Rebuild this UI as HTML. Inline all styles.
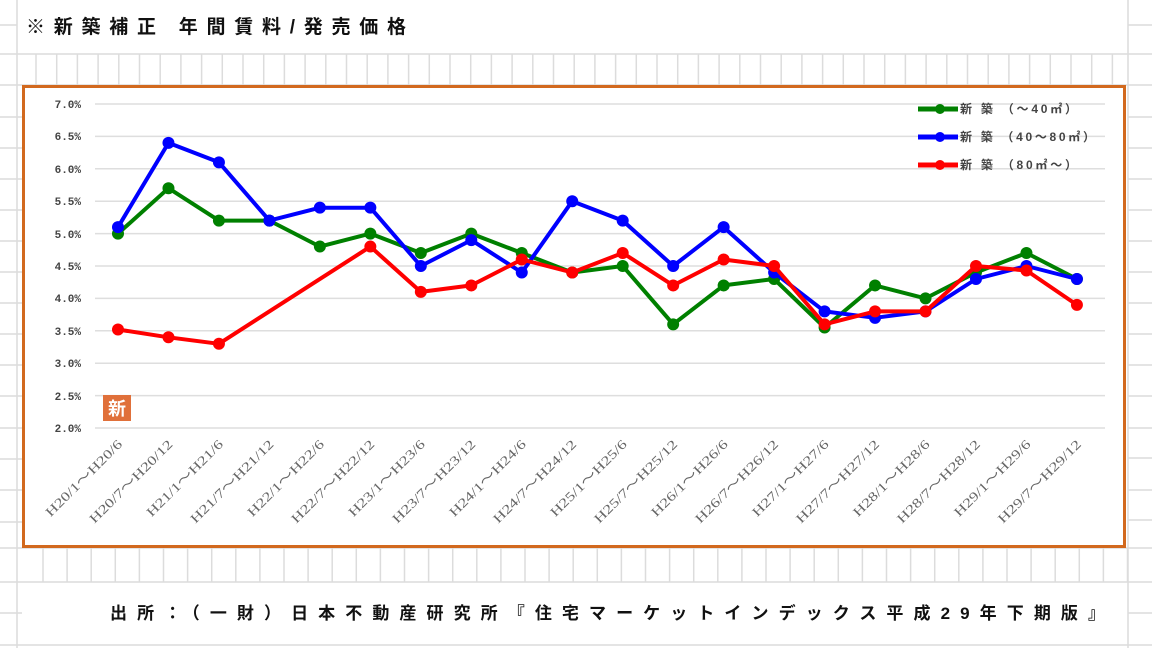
<!DOCTYPE html>
<html><head><meta charset="utf-8"><style>
html,body{margin:0;padding:0;background:#fff;}
body{width:1152px;height:648px;overflow:hidden;font-family:"Liberation Sans","Noto Sans CJK JP",sans-serif;}
</style></head><body>
<svg width="1152" height="648" xmlns="http://www.w3.org/2000/svg" font-family="'Liberation Sans','Noto Sans CJK JP',sans-serif">
<g stroke="#dcdcdc" stroke-width="1.5" fill="none">
<line x1="17" y1="0" x2="17" y2="648"/>
<line x1="1128" y1="0" x2="1128" y2="648"/>
<line x1="0" y1="54" x2="1152" y2="54"/>
<line x1="0" y1="85" x2="1152" y2="85"/>
<line x1="0" y1="548" x2="1152" y2="548"/>
<line x1="0" y1="582" x2="1152" y2="582"/>
<line x1="0" y1="645" x2="1152" y2="645"/>
<line x1="0" y1="25" x2="17" y2="25"/>
<line x1="1128" y1="25" x2="1152" y2="25"/>
<line x1="0" y1="117" x2="22" y2="117"/><line x1="0" y1="148" x2="22" y2="148"/><line x1="0" y1="179" x2="22" y2="179"/><line x1="0" y1="210" x2="22" y2="210"/><line x1="0" y1="241" x2="22" y2="241"/><line x1="0" y1="272" x2="22" y2="272"/><line x1="0" y1="303" x2="22" y2="303"/><line x1="0" y1="334" x2="22" y2="334"/><line x1="0" y1="365" x2="22" y2="365"/><line x1="0" y1="396" x2="22" y2="396"/><line x1="0" y1="428" x2="22" y2="428"/><line x1="0" y1="459" x2="22" y2="459"/><line x1="0" y1="490" x2="22" y2="490"/><line x1="0" y1="522" x2="22" y2="522"/><line x1="0" y1="613" x2="22" y2="613"/>
<line x1="1128" y1="117" x2="1152" y2="117"/><line x1="1128" y1="148" x2="1152" y2="148"/><line x1="1128" y1="179" x2="1152" y2="179"/><line x1="1128" y1="210" x2="1152" y2="210"/><line x1="1128" y1="241" x2="1152" y2="241"/><line x1="1128" y1="272" x2="1152" y2="272"/><line x1="1128" y1="303" x2="1152" y2="303"/><line x1="1128" y1="334" x2="1152" y2="334"/><line x1="1128" y1="365" x2="1152" y2="365"/><line x1="1128" y1="396" x2="1152" y2="396"/><line x1="1128" y1="428" x2="1152" y2="428"/><line x1="1128" y1="458" x2="1152" y2="458"/><line x1="1128" y1="490" x2="1152" y2="490"/><line x1="1128" y1="520" x2="1152" y2="520"/><line x1="1128" y1="613" x2="1152" y2="613"/>
</g>
<g stroke="#dcdcdc" stroke-width="1.5" id="vt"></g>
<text x="26" y="33" font-size="19" font-weight="bold" fill="#111" textLength="380" lengthAdjust="spacing">※新築補正 年間賃料/発売価格</text>
<rect x="23.5" y="86.5" width="1101" height="460" fill="#fff" stroke="#d2691e" stroke-width="3"/>
<g stroke="#dedede" stroke-width="1.5">
<line x1="95" y1="104" x2="1105" y2="104"/><line x1="95" y1="136.4" x2="1105" y2="136.4"/><line x1="95" y1="168.8" x2="1105" y2="168.8"/><line x1="95" y1="201.2" x2="1105" y2="201.2"/><line x1="95" y1="233.6" x2="1105" y2="233.6"/><line x1="95" y1="266" x2="1105" y2="266"/><line x1="95" y1="298.4" x2="1105" y2="298.4"/><line x1="95" y1="330.8" x2="1105" y2="330.8"/><line x1="95" y1="363.2" x2="1105" y2="363.2"/><line x1="95" y1="395.6" x2="1105" y2="395.6"/><line x1="95" y1="428" x2="1105" y2="428"/>
</g>
<g font-family="'Liberation Mono',monospace" font-size="11" font-weight="bold" fill="#444" text-anchor="end">
<text x="81" y="108">7.0%</text><text x="81" y="140">6.5%</text><text x="81" y="173">6.0%</text><text x="81" y="205">5.5%</text><text x="81" y="238">5.0%</text><text x="81" y="270">4.5%</text><text x="81" y="302">4.0%</text><text x="81" y="335">3.5%</text><text x="81" y="367">3.0%</text><text x="81" y="400">2.5%</text><text x="81" y="432">2.0%</text>
</g>
<rect x="103" y="395" width="28" height="26" fill="#e0703a"/>
<text x="117" y="415" font-size="18" font-weight="bold" fill="#fff" text-anchor="middle">新</text>
<g id="labels" font-family="'Liberation Serif',serif" font-size="13" fill="#666" text-anchor="end"></g>
<g id="series"></g>
<g font-size="12" font-weight="bold" fill="#444">
<line x1="918" y1="109" x2="958" y2="109" stroke="#008000" stroke-width="5"/><circle cx="940" cy="109" r="5" fill="#008000"/>
<text x="960" y="113" textLength="117" lengthAdjust="spacing">新 築 （～40㎡）</text>
<line x1="918" y1="137" x2="958" y2="137" stroke="#0000ff" stroke-width="5"/><circle cx="940" cy="137" r="5" fill="#0000ff"/>
<text x="960" y="141" textLength="135" lengthAdjust="spacing">新 築 （40～80㎡）</text>
<line x1="918" y1="165" x2="958" y2="165" stroke="#ff0000" stroke-width="5"/><circle cx="940" cy="165" r="5" fill="#ff0000"/>
<text x="960" y="169" textLength="117" lengthAdjust="spacing">新 築 （80㎡～）</text>
</g>
<text x="110" y="619" font-size="17" font-weight="bold" fill="#111" textLength="995" lengthAdjust="spacing">出所：（一財）日本不動産研究所『住宅マーケットインデックス平成29年下期版』</text>
<script>
var ns="http://www.w3.org/2000/svg";
function el(t,a,p){var e=document.createElementNS(ns,t);for(var k in a)e.setAttribute(k,a[k]);p.appendChild(e);return e;}
var vt=document.getElementById('vt');
for(var x=36;x<1128;x+=20.7){el('line',{x1:x,y1:54,x2:x,y2:85},vt);}
for(var x=43;x<1128;x+=24.1){el('line',{x1:x,y1:548,x2:x,y2:582},vt);}
var cats=["H20/1～H20/6","H20/7～H20/12","H21/1～H21/6","H21/7～H21/12","H22/1～H22/6","H22/7～H22/12","H23/1～H23/6","H23/7～H23/12","H24/1～H24/6","H24/7～H24/12","H25/1～H25/6","H25/7～H25/12","H26/1～H26/6","H26/7～H26/12","H27/1～H27/6","H27/7～H27/12","H28/1～H28/6","H28/7～H28/12","H29/1～H29/6","H29/7～H29/12"];
function X(i){return 118+i*50.47;}function Y(v){return 428-(v-2)*64.8;}
var lg=document.getElementById('labels');
cats.forEach(function(c,i){var t=el('text',{x:X(i)+5,y:445,textLength:c.length*9.3,lengthAdjust:'spacingAndGlyphs',transform:'rotate(-45 '+(X(i)+5)+' 445)'},lg);t.textContent=c;});
var S=[["#008000",[5.0,5.7,5.2,5.2,4.8,5.0,4.7,5.0,4.7,4.4,4.5,3.6,4.2,4.3,3.55,4.2,4.0,4.4,4.7,4.3]],
["#0000ff",[5.1,6.4,6.1,5.2,5.4,5.4,4.5,4.9,4.4,5.5,5.2,4.5,5.1,4.4,3.8,3.7,3.8,4.3,4.5,4.3]],
["#ff0000",[3.52,3.4,3.3,null,null,4.8,4.1,4.2,4.6,4.4,4.7,4.2,4.6,4.5,3.6,3.8,3.8,4.5,4.43,3.9]]];
var sg=document.getElementById('series');
S.forEach(function(s){var pts=[];s[1].forEach(function(v,i){if(v!=null)pts.push(X(i).toFixed(1)+','+Y(v).toFixed(1));});
el('polyline',{points:pts.join(' '),fill:'none',stroke:s[0],'stroke-width':4,'stroke-linejoin':'round'},sg);
s[1].forEach(function(v,i){if(v!=null)el('circle',{cx:X(i),cy:Y(v),r:6,fill:s[0]},sg);});});
</script>
</svg>
</body></html>
